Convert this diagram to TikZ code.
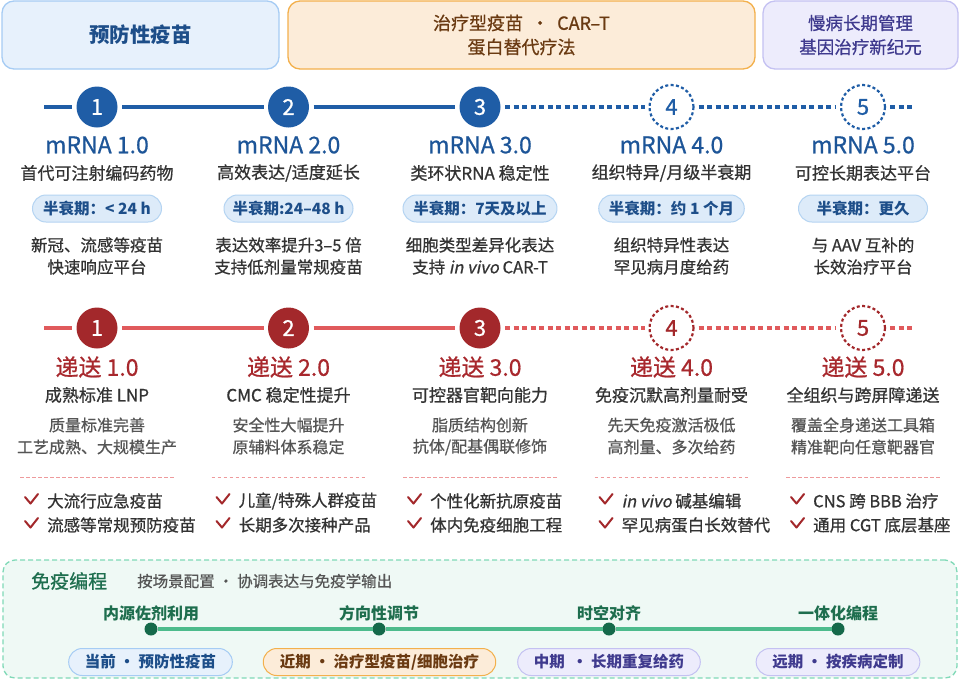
\documentclass[tikz,border=0pt]{standalone}
\usepackage{fontspec}
\setmainfont{Noto Sans CJK SC}
\newfontfamily\slantfont{Noto Sans CJK SC}[FakeSlant=0.2]
\newfontfamily\medfont{Noto Sans CJK SC}[FakeBold=0.7]
\newfontfamily\medslant{Noto Sans CJK SC}[FakeBold=0.7,FakeSlant=0.2]
\usetikzlibrary{shapes.misc}
\definecolor{bluec}{HTML}{1F5DA6}
\definecolor{bluetxt}{HTML}{1D5598}
\definecolor{redc}{HTML}{A3282B}
\definecolor{redline}{HTML}{E05A5C}
\definecolor{redtxt}{HTML}{A8282D}
\definecolor{darktxt}{HTML}{333333}
\definecolor{graytxt}{HTML}{555555}
\definecolor{pillfill}{HTML}{DDEBF9}
\definecolor{pilldraw}{HTML}{B5D4F2}
\definecolor{hAfill}{HTML}{E7F1FC}
\definecolor{hAdraw}{HTML}{A6CCF4}
\definecolor{hAtxt}{HTML}{1D4E89}
\definecolor{hBfill}{HTML}{FCECD9}
\definecolor{hBdraw}{HTML}{F3B04C}
\definecolor{hBtxt}{HTML}{6A3A12}
\definecolor{hCfill}{HTML}{EDECFC}
\definecolor{hCdraw}{HTML}{C4C1F2}
\definecolor{hCtxt}{HTML}{3F3A8E}
\definecolor{sepc}{HTML}{EE9A9C}
\definecolor{panfill}{HTML}{EFF9F5}
\definecolor{pandraw}{HTML}{80D9B7}
\definecolor{greentxt}{HTML}{1E6E4E}
\definecolor{greenline}{HTML}{4DBB8C}
\definecolor{greendot}{HTML}{15694A}
\newcommand{\fsz}[2]{\fontsize{#1}{#2}\selectfont}
\tikzset{
  hdr/.style={rounded corners=12pt, line width=1.3pt, minimum height=68pt, align=center, inner sep=0pt},
  bfill/.style={circle, fill=bluec, minimum size=41pt, inner sep=0pt, outer sep=4.5pt, text=white, font=\medfont\fsz{22}{24}},
  bdot/.style={circle, draw=bluec, fill=white, line width=2.2pt, dash pattern=on 3pt off 2.4pt, minimum size=44pt, inner sep=0pt, outer sep=5pt, text=bluec, font=\medfont\fsz{22}{24}},
  rfill/.style={bfill, fill=redc},
  rdot/.style={bdot, draw=redc, text=redc},
  bline/.style={draw=bluec, line width=3.8pt},
  bdash/.style={bline, dash pattern=on 5pt off 3.5pt},
  rline/.style={draw=redline, line width=3.8pt},
  rdash/.style={rline, dash pattern=on 5pt off 3.5pt},
  btitle/.style={text=bluetxt, font=\medfont\fsz{23}{26}, inner sep=0pt},
  bsub/.style={text=darktxt, font=\medfont\fsz{17}{20}, inner sep=0pt},
  bpill/.style={rounded rectangle, fill=pillfill, draw=pilldraw, line width=1pt, minimum width=145pt, minimum height=27pt, inner xsep=8pt, inner ysep=0pt, text=hAtxt, font=\bfseries\fsz{15.5}{18}},
  bdesc/.style={text=darktxt, font=\medfont\fsz{16.5}{20}, inner sep=0pt},
  rtitle/.style={text=redtxt, font=\medfont\fsz{23}{26}, inner sep=0pt},
  rsub/.style={text=darktxt, font=\medfont\fsz{17}{20}, inner sep=0pt},
  rdesc/.style={text=graytxt, font=\medfont\fsz{16}{20}, inner sep=0pt},
  sepline/.style={draw=sepc, line width=1pt, dash pattern=on 3.5pt off 2.5pt},
  checkm/.style={draw=redc, line width=2pt, line cap=round, line join=round},
  chk/.style={anchor=west, text=darktxt, font=\medfont\fsz{16.5}{20}, inner sep=0pt},
  panel/.style={rounded corners=12pt, fill=panfill, draw=pandraw, line width=1.3pt, dash pattern=on 5pt off 3pt},
  gline/.style={draw=greenline, line width=3.5pt},
  gdot/.style={circle, fill=greendot, minimum size=13pt, inner sep=0pt, outer sep=0pt},
  glabel/.style={text=greentxt, font=\bfseries\fsz{16}{20}, inner sep=0pt},
  gpill/.style={rounded rectangle, line width=1pt, minimum height=27pt, inner xsep=14pt, inner ysep=0pt, font=\bfseries\fsz{15.5}{18}},
  gpillA/.style={gpill, fill=hAfill, draw=hAdraw, text=hAtxt},
  gpillB/.style={gpill, fill=hBfill, draw=hBdraw, text=hBtxt},
  gpillC/.style={gpill, fill=hCfill, draw=hCdraw, text=hCtxt},
}
\newcommand{\bluecol}[7]{%
  \node[btitle] (bt#1) at (#2,145) {#3};
  \node[bsub] (bs#1) at (#2,173) {#4};
  \node[bpill] (bp#1) at (#2,208.5) {#5};
  \node[bdesc] (bd#1) at (#2,245) {#6};
  \node[bdesc] (be#1) at (#2,267) {#7};
}
\newcommand{\redcol}[8]{%
  \node[rtitle] (rt#1) at (#2,367) {#3};
  \node[rsub] (rs#1) at (#2,395) {#4};
  \node[rdesc] (rd#1) at (#2,425) {#5};
  \node[rdesc] (re#1) at (#2,447) {#6};
  \draw[sepline] (#2-77,477) -- (#2+77,477);
  \draw[checkm] (#2-72,497) -- (#2-66.5,503.5) -- (#2-59,494);
  \node[chk] (rc#1) at (#2-50,501) {#7};
  \draw[checkm] (#2-72,521) -- (#2-66.5,527.5) -- (#2-59,518);
  \node[chk] (rk#1) at (#2-50,525) {#8};
}
\begin{document}
\begin{tikzpicture}[x=1pt,y=-1pt]
\useasboundingbox (0,0) rectangle (960,681);
\fill[white] (0,0) rectangle (960,681);
% headers
\node[hdr, fill=hAfill, draw=hAdraw, text=hAtxt, minimum width=277pt, font=\bfseries\fsz{20.5}{24}] (hA) at (140.5,35) {预防性疫苗};
\node[hdr, fill=hBfill, draw=hBdraw, text=hBtxt, minimum width=467pt, font=\medfont\fsz{18}{24}] (hB) at (521.5,35) {治疗型疫苗 \ · \ CAR–T\\蛋白替代疗法};
\node[hdr, fill=hCfill, draw=hCdraw, text=hCtxt, minimum width=195pt, font=\medfont\fsz{17.5}{24}] (hC) at (860.5,35) {慢病长期管理\\基因治疗新纪元};
% mRNA timeline
\coordinate (bs) at (44,107);
\coordinate (be) at (913,107);
\node[bfill] (b1) at (97,107) {1};
\node[bfill] (b2) at (288.5,107) {2};
\node[bfill] (b3) at (480,107) {3};
\node[bdot] (b4) at (671.5,107) {4};
\node[bdot] (b5) at (863,107) {5};
\draw[bline] (bs) -- (b1);
\draw[bline] (b1) -- (b2);
\draw[bline] (b2) -- (b3);
\draw[bdash] (b3) -- (b4);
\draw[bdash] (b4) -- (b5);
\draw[bdash] (b5) -- (be);
\bluecol{1}{97}{mRNA 1.0}{首代可注射编码药物}{半衰期：< 24 h}{新冠、流感等疫苗}{快速响应平台}
\bluecol{2}{288.5}{mRNA 2.0}{高效表达/适度延长}{半衰期:24–48 h}{表达效率提升3–5 倍}{支持低剂量常规疫苗}
\bluecol{3}{480}{mRNA 3.0}{类环状RNA 稳定性}{半衰期：7天及以上}{细胞类型差异化表达}{支持 {\medslant in vivo} CAR-T}
\bluecol{4}{671.5}{mRNA 4.0}{组织特异/月级半衰期}{半衰期：约 1 个月}{组织特异性表达}{罕见病月度给药}
\bluecol{5}{863}{mRNA 5.0}{可控长期表达平台}{半衰期：更久}{与 AAV 互补的}{长效治疗平台}
% delivery timeline
\coordinate (rs) at (44,328);
\coordinate (re) at (913,328);
\node[rfill] (r1) at (97,328) {1};
\node[rfill] (r2) at (288.5,328) {2};
\node[rfill] (r3) at (480,328) {3};
\node[rdot] (r4) at (671.5,328) {4};
\node[rdot] (r5) at (863,328) {5};
\draw[rline] (rs) -- (r1);
\draw[rline] (r1) -- (r2);
\draw[rline] (r2) -- (r3);
\draw[rdash] (r3) -- (r4);
\draw[rdash] (r4) -- (r5);
\draw[rdash] (r5) -- (re);
\redcol{1}{97}{递送 1.0}{成熟标准 LNP}{质量标准完善}{工艺成熟、大规模生产}{大流行应急疫苗}{流感等常规预防疫苗}
\redcol{2}{288.5}{递送 2.0}{CMC 稳定性提升}{安全性大幅提升}{原辅料体系稳定}{儿童/特殊人群疫苗}{长期多次接种产品}
\redcol{3}{480}{递送 3.0}{可控器官靶向能力}{脂质结构创新}{抗体/配基偶联修饰}{个性化新抗原疫苗}{体内免疫细胞工程}
\redcol{4}{671.5}{递送 4.0}{免疫沉默高剂量耐受}{先天免疫激活极低}{高剂量、多次给药}{{\medslant in vivo} 碱基编辑}{罕见病蛋白长效替代}
\redcol{5}{863}{递送 5.0}{全组织与跨屏障递送}{覆盖全身递送工具箱}{精准靶向任意靶器官}{CNS 跨 BBB 治疗}{通用 CGT 底层基座}
% bottom panel
\node[panel, minimum width=954pt, minimum height=118pt] (panel) at (480,619) {};
\node[anchor=west, inner sep=0pt, text=greentxt, font=\medfont\fsz{19}{22}] (ptitle) at (31,581) {免疫编程};
\node[anchor=west, inner sep=0pt, text=graytxt, font=\medfont\fsz{15.5}{19}] (psub) at (137,581) {按场景配置 · 协调表达与免疫学输出};
\node[gdot] (g1) at (151,629) {};
\node[gdot] (g2) at (379,629) {};
\node[gdot] (g3) at (609,629) {};
\node[gdot] (g4) at (838,629) {};
\draw[gline] (g1) -- (g2);
\draw[gline] (g2) -- (g3);
\draw[gline] (g3) -- (g4);
\node[glabel] (l1) at (151,613) {内源佐剂利用};
\node[glabel] (l2) at (379,613) {方向性调节};
\node[glabel] (l3) at (609,613) {时空对齐};
\node[glabel] (l4) at (838,613) {一体化编程};
\node[gpillA] (q1) at (150.5,662) {当前 · 预防性疫苗};
\node[gpillB] (q2) at (379.5,662) {近期 · 治疗型疫苗/细胞治疗};
\node[gpillC] (q3) at (609,662) {中期 \ · 长期重复给药};
\node[gpillC] (q4) at (838,662) {远期 · 按疾病定制};
\end{tikzpicture}
\end{document}
